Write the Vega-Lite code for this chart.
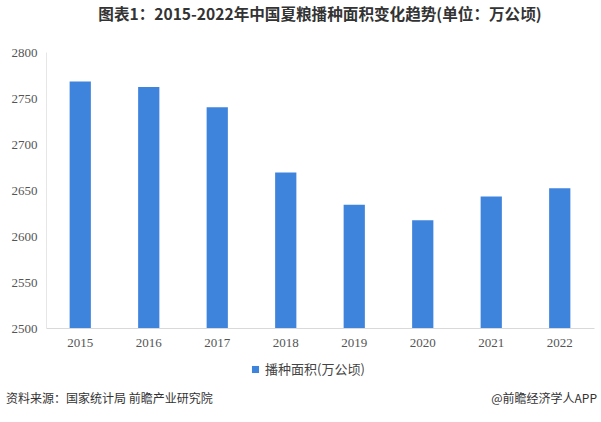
{
  "$schema": "https://vega.github.io/schema/vega-lite/v6.json",
  "width": 548,
  "height": 276,
  "autosize": {"type": "none"},
  "padding": {"left": 46, "top": 52, "right": 7, "bottom": 94},
  "background": "white",
  "title": {
    "text": "图表1：2015-2022年中国夏粮播种面积变化趋势(单位：万公顷)",
    "font": "Noto Sans CJK SC",
    "fontSize": 15.6,
    "fontWeight": "bold",
    "color": "#333333",
    "anchor": "middle",
    "offset": 22,
    "dx": 0
  },
  "data": {
    "values": [
      {"year": "2015", "area": 2768, "series": "播种面积(万公顷)"},
      {"year": "2016", "area": 2762, "series": "播种面积(万公顷)"},
      {"year": "2017", "area": 2740, "series": "播种面积(万公顷)"},
      {"year": "2018", "area": 2669, "series": "播种面积(万公顷)"},
      {"year": "2019", "area": 2634, "series": "播种面积(万公顷)"},
      {"year": "2020", "area": 2617, "series": "播种面积(万公顷)"},
      {"year": "2021", "area": 2643, "series": "播种面积(万公顷)"},
      {"year": "2022", "area": 2652, "series": "播种面积(万公顷)"}
    ]
  },
  "layer": [
    {
      "mark": {"type": "bar", "clip": true},
      "encoding": {
        "x": {
          "field": "year",
          "type": "ordinal",
          "scale": {"paddingInner": 0.69, "paddingOuter": 0.345},
          "axis": {
            "title": null,
            "labelAngle": 0,
            "labelFont": "Liberation Serif",
            "labelFontSize": 13,
            "labelColor": "#555555",
            "labelPadding": 8,
            "ticks": false,
            "domainColor": "#d9d9d9",
            "domainWidth": 1,
            "grid": false
          }
        },
        "y": {
          "field": "area",
          "type": "quantitative",
          "scale": {"domain": [2500, 2800], "nice": false, "zero": false},
          "axis": {
            "title": null,
            "format": "d",
            "values": [2500, 2550, 2600, 2650, 2700, 2750, 2800],
            "labelFont": "Liberation Serif",
            "labelFontSize": 13,
            "labelColor": "#555555",
            "labelPadding": 9,
            "ticks": false,
            "domainColor": "#e6e6e6",
            "grid": false
          }
        },
        "color": {
          "field": "series",
          "type": "nominal",
          "scale": {"range": ["#3f84dc"]},
          "legend": {
            "title": null,
            "orient": "none",
            "legendX": 203,
            "legendY": 311,
            "direction": "horizontal",
            "symbolType": "square",
            "symbolSize": 50,
            "labelFont": "Noto Sans CJK SC",
            "labelFontSize": 13,
            "labelColor": "#444444",
            "labelOffset": 3
          }
        }
      }
    },
    {
      "data": {"values": [{"note": "资料来源：国家统计局 前瞻产业研究院"}]},
      "mark": {
        "type": "text",
        "font": "Noto Sans CJK SC",
        "fontSize": 12,
        "color": "#333333",
        "align": "left",
        "baseline": "middle"
      },
      "encoding": {"text": {"field": "note"}, "x": {"value": -40}, "y": {"value": 347}}
    },
    {
      "data": {"values": [{"note": "@前瞻经济学人APP"}]},
      "mark": {
        "type": "text",
        "font": "Noto Sans CJK SC",
        "fontSize": 12,
        "color": "#333333",
        "align": "right",
        "baseline": "middle"
      },
      "encoding": {"text": {"field": "note"}, "x": {"value": 551}, "y": {"value": 347}}
    }
  ],
  "config": {"view": {"stroke": null}}
}
